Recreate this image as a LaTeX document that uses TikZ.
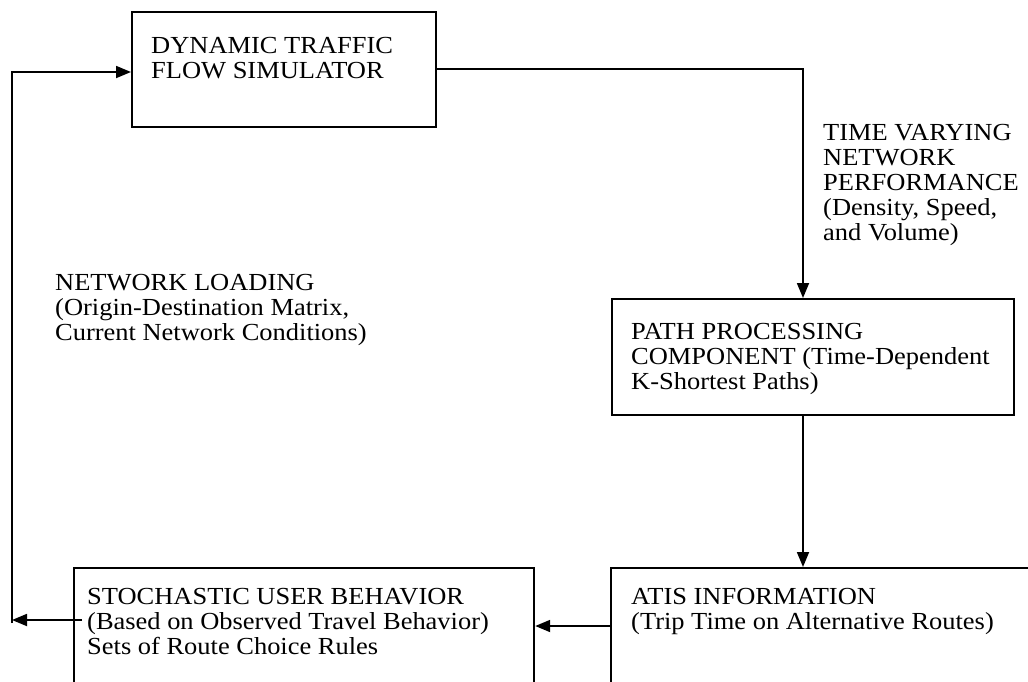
\documentclass[tikz,border=0pt]{standalone}
\usepackage{fontspec}
\setmainfont{Liberation Serif}[FakeStretch=1.08]
\usetikzlibrary{arrows.meta,calc}

\tikzset{
  box/.style={draw, line width=2.2pt, anchor=north west, inner sep=0pt},
  conn/.style={line width=1.8pt},
  arr/.style={conn, -{Triangle[length=15pt,width=12pt]}},
  lbl/.style={anchor=north west, inner sep=0pt, align=left,
              font=\fontsize{24.5}{25}\selectfont},
}

\begin{document}
\begin{tikzpicture}[x=1pt, y=-1pt]
  \useasboundingbox (0,0) rectangle (1028,681);
  \fill[white] (0,0) rectangle (1028,681);
  \clip (0,0) rectangle (1028,681);

  % boxes
  \node[box, minimum width=304pt, minimum height=115pt] (dtfs) at (131,11) {};
  \node[box, minimum width=402pt, minimum height=116pt] (ppc)  at (611,298) {};
  \node[box, minimum width=460pt, minimum height=160pt] (stoch) at (73,567) {};
  \node[box, minimum width=480pt, minimum height=160pt] (atis)  at (610,567) {};

  % box texts
  \node[lbl] (dtfs-txt) at (151,36) {\strut DYNAMIC TRAFFIC\\FLOW SIMULATOR};
  \node[lbl] (ppc-txt) at (631,322) {\strut PATH PROCESSING\\COMPONENT (Time-Dependent\\K-Shortest Paths)};
  \node[lbl] (stoch-txt) at (87,587) {\strut STOCHASTIC USER BEHAVIOR\\(Based on Observed Travel Behavior)\\Sets of Route Choice Rules};
  \node[lbl] (atis-txt) at (631,587) {\strut ATIS INFORMATION\\(Trip Time on Alternative Routes)};

  % connector labels
  \node[lbl] (perf-txt) at (823,123) {\strut TIME VARYING\\NETWORK\\PERFORMANCE\\(Density, Speed,\\and Volume)};
  \node[lbl] (load-txt) at (55,273) {\strut NETWORK LOADING\\(Origin-Destination Matrix,\\Current Network Conditions)};

  % routing points
  \coordinate (lbot) at (12,620);
  \coordinate (ltop) at (12,72);
  \coordinate (rtop) at (803,69);
  \coordinate (mid)  at (0,626);

  % connectors
  \draw[arr] ([xshift=9pt]stoch.north west |- lbot) -- (lbot);
  \draw[arr] ([yshift=-3pt]lbot) -- (ltop) -- (dtfs.west |- ltop);
  \draw[arr] (dtfs.east |- rtop) -- (rtop) -- (ppc.north -| rtop);
  \draw[arr] (ppc.south -| rtop) -- (atis.north -| rtop);
  \draw[arr] (atis.west |- mid) -- (stoch.east |- mid);
\end{tikzpicture}
\end{document}
